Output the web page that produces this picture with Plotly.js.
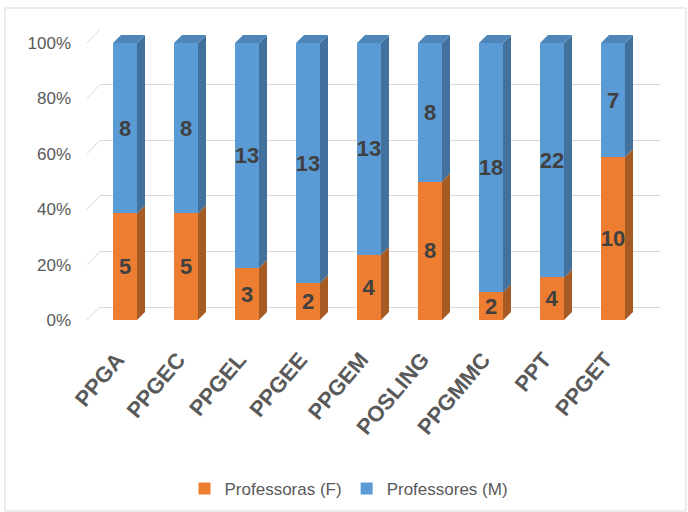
<!DOCTYPE html>
<html><head><meta charset="utf-8">
<script src="https://cdn.plot.ly/plotly-3.0.1.min.js"></script>
<style>html,body{margin:0;padding:0;background:#fff}#chart{width:688px;height:512px}</style>
</head><body><div id="chart"></div>
<script>
const categories = ['PPGA','PPGEC','PPGEL','PPGEE','PPGEM','POSLING','PPGMMC','PPT','PPGET'];
const professoras = [5,5,3,2,4,8,2,4,10];
const professores = [8,8,13,13,13,8,18,22,7];
const yTicks = [0,20,40,60,80,100];

const W = 688, H = 512;
const FONT = '"Liberation Sans",Arial,sans-serif';
const px = x => x / W, py = y => 1 - y / H;

// front plane: 0% at y=320px, 100% at y=43px; bars axis
const frontBottom = 320, frontTop = 43, unit = (frontBottom - frontTop) / 100;
const yMax = 104;
const catPx = 61, firstCenter = 125;
const halfW = 12 / catPx;
const dx = 8 / catPx, dy = 8 / unit;

const idx = categories.map((c, i) => i);
const pctF = professoras.map((f, i) => f / (f + professores[i]) * 100);
const pctM = professores.map((m, i) => m / (professoras[i] + m) * 100);

function sidePolys(bottoms, tops) {
  const xs = [], ys = [];
  idx.forEach(i => {
    const x0 = i + halfW, y0 = bottoms[i], y1 = tops[i];
    xs.push(x0, x0 + dx, x0 + dx, x0, x0, null);
    ys.push(y0, y0 + dy, y1 + dy, y1, y0, null);
  });
  return {xs, ys};
}
function topPolys(tops) {
  const xs = [], ys = [];
  idx.forEach(i => {
    const t = tops[i];
    xs.push(i - halfW, i - halfW + dx, i + halfW + dx, i + halfW, i - halfW, null);
    ys.push(t, t + dy, t + dy, t, t, null);
  });
  return {xs, ys};
}
const zeros = idx.map(() => 0);
const totals = idx.map(i => pctF[i] + pctM[i]);
const sF = sidePolys(zeros, pctF);
const sM = sidePolys(pctF, totals);
const tM = topPolys(totals);

const faceTrace = (p, color) => ({
  type: 'scatter', x: p.xs, y: p.ys, xaxis: 'x2', yaxis: 'y2',
  mode: 'lines', fill: 'toself', fillcolor: color, line: {width: 0, color: color},
  hoverinfo: 'skip', showlegend: false
});

const barText = {family: FONT, size: 22, color: '#404040', weight: 700};

const traces = [
  {type: 'scatter', x: [0], y: [0], xaxis: 'x', yaxis: 'y', mode: 'markers',
   marker: {opacity: 0}, hoverinfo: 'skip', showlegend: false},
  {type: 'bar', name: 'Professoras (F)', x: idx, y: pctF, xaxis: 'x2', yaxis: 'y2',
   width: 2 * halfW, marker: {color: '#ED7D31', line: {width: 0}},
   text: professoras.map(String), textposition: 'inside', insidetextanchor: 'middle',
   textangle: 0, constraintext: 'none', textfont: barText, hoverinfo: 'skip'},
  {type: 'bar', name: 'Professores (M)', x: idx, y: pctM, xaxis: 'x2', yaxis: 'y2',
   width: 2 * halfW, marker: {color: '#5B9BD5', line: {width: 0}},
   text: professores.map(String), textposition: 'inside', insidetextanchor: 'middle',
   textangle: 0, constraintext: 'none', textfont: barText, hoverinfo: 'skip'},
  faceTrace(sF, '#A65A24'),
  faceTrace(sM, '#41719C'),
  faceTrace(tM, '#4E86B9')
];

const shapes = [
  {type: 'rect', xref: 'paper', yref: 'paper', x0: px(5), x1: px(686), y0: py(511), y1: py(8),
   line: {color: '#d9d9d9', width: 1}, layer: 'below'}
];
yTicks.forEach(t => {
  shapes.push({type: 'line', xref: 'paper', yref: 'paper',
    x0: px(87), y0: py(frontBottom - unit * t), x1: px(100), y1: py(307 - 2.78 * t),
    line: {color: '#d9d9d9', width: 1}, layer: 'below'});
});

const layout = {
  width: W, height: H, autosize: false,
  margin: {l: 0, r: 0, t: 0, b: 0},
  paper_bgcolor: '#fff', plot_bgcolor: 'rgba(0,0,0,0)',
  barmode: 'stack', showlegend: true,
  xaxis: {domain: [px(100), px(660)], range: [0, 1], showgrid: false, zeroline: false,
          showticklabels: false, showline: false, ticks: '', anchor: 'y', fixedrange: true},
  yaxis: {domain: [py(307), py(29)], range: [0, 100.01], tickvals: yTicks, showgrid: true,
          gridcolor: '#d9d9d9', gridwidth: 1, zeroline: true, zerolinecolor: '#d9d9d9', zerolinewidth: 1,
          showticklabels: false, ticks: '', anchor: 'x', fixedrange: true},
  xaxis2: {domain: [px(firstCenter - catPx / 2), px(firstCenter + catPx * 8.5)], range: [-0.5, 8.5],
           tickvals: idx, ticktext: categories, tickangle: -50, ticklabelshift: -8,
           tickfont: {family: FONT, size: 22, color: '#595959', weight: 700},
           ticks: 'outside', ticklen: 17, tickcolor: 'rgba(0,0,0,0)',
           showgrid: false, zeroline: false, showline: false, anchor: 'y2', automargin: false, fixedrange: true},
  yaxis2: {domain: [py(frontBottom), py(frontBottom - unit * yMax)], range: [0, yMax],
           tickvals: yTicks, ticktext: yTicks.map(t => t + '%'),
           tickfont: {family: FONT, size: 17, color: '#595959'},
           ticks: 'outside', ticklen: 19, tickcolor: 'rgba(0,0,0,0)',
           showgrid: false, zeroline: false, showline: false, anchor: 'x2', automargin: false, fixedrange: true},
  legend: {orientation: 'h', x: px(349), xanchor: 'center', y: py(489), yanchor: 'middle',
           font: {family: FONT, size: 17, color: '#595959'}, traceorder: 'normal', itemclick: false},
  shapes: shapes
};

Plotly.newPlot('chart', traces, layout, {displayModeBar: false, staticPlot: true});
</script>
</body></html>
